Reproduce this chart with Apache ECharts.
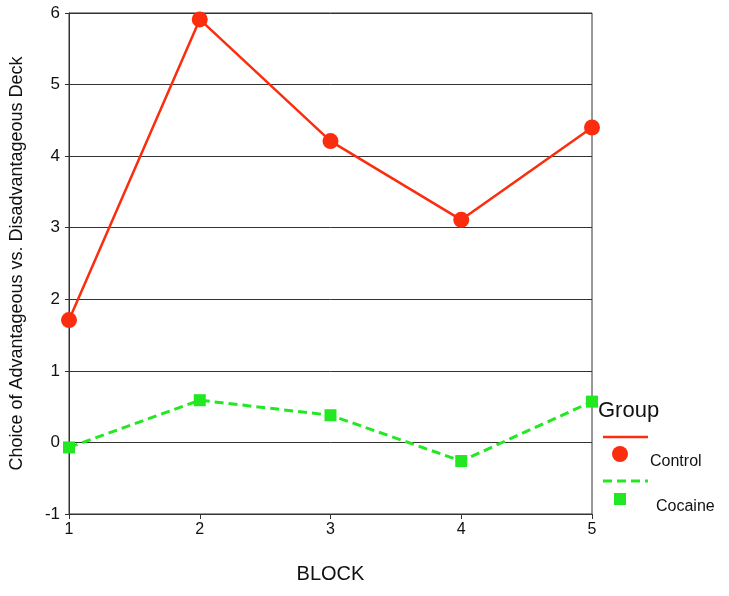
<!DOCTYPE html>
<html><head><meta charset="utf-8">
<script src="https://cdn.jsdelivr.net/npm/echarts@6/dist/echarts.min.js"></script>
<style>html,body{margin:0;padding:0;background:#fff}#c{width:729px;height:596px}</style>
</head><body><div id="c"></div>
<script>
const blocks = ['1','2','3','4','5'];
const controlValues = [1.71, 5.91, 4.21, 3.11, 4.40];
const cocaineValues = [-0.07, 0.59, 0.38, -0.26, 0.57];
const yTicks = {min: -1, max: 6, interval: 1};
const red = '#fa2d0e', green = '#22e822';
const font = 'Liberation Sans, Arial, Helvetica, sans-serif';

const chart = echarts.init(document.getElementById('c'), null, {renderer: 'canvas'});
chart.setOption({
  animation: false,
  grid: {left: 69, right: 137, top: 13, bottom: 82, show: true, borderColor: '#333', borderWidth: 1, backgroundColor: 'transparent'},
  xAxis: {
    type: 'category', data: blocks, boundaryGap: false,
    name: 'BLOCK', nameLocation: 'middle', nameGap: 50,
    nameTextStyle: {fontFamily: font, fontSize: 20, color: '#111'},
    axisLine: {onZero: false, lineStyle: {color: '#333', width: 1}},
    axisTick: {show: true, length: 5, lineStyle: {color: '#333'}, alignWithLabel: true},
    axisLabel: {fontFamily: font, fontSize: 16, color: '#111', margin: 8},
    splitLine: {show: false}
  },
  yAxis: {
    type: 'value', min: yTicks.min, max: yTicks.max, interval: yTicks.interval,
    name: 'Choice of Advantageous vs. Disadvantageous Deck', nameLocation: 'middle', nameGap: 43,
    nameTextStyle: {fontFamily: font, fontSize: 18, color: '#111'},
    axisLine: {show: true, lineStyle: {color: '#333', width: 1}},
    axisTick: {show: true, length: 4, lineStyle: {color: '#333'}},
    axisLabel: {fontFamily: font, fontSize: 17, color: '#111', margin: 9},
    splitLine: {show: true, lineStyle: {color: '#333', width: 1}}
  },
  series: [
    {name: 'Control', type: 'line', data: controlValues, symbol: 'circle', symbolSize: 16,
     lineStyle: {color: red, width: 2.5}, itemStyle: {color: red}, clip: false},
    {name: 'Cocaine', type: 'line', data: cocaineValues, symbol: 'rect', symbolSize: 12,
     lineStyle: {color: green, width: 3, type: [9, 5]}, itemStyle: {color: green}, clip: false}
  ],
  graphic: [
    {type: 'text', left: 598, top: 400, style: {text: 'Group', font: '22px ' + font, fill: '#111'}},
    {type: 'line', shape: {x1: 603, y1: 437, x2: 648, y2: 437}, style: {stroke: red, lineWidth: 2.5}},
    {type: 'circle', shape: {cx: 620, cy: 454, r: 8}, style: {fill: red}},
    {type: 'text', left: 650, top: 454, style: {text: 'Control', font: '16px ' + font, fill: '#111'}},
    {type: 'line', shape: {x1: 603, y1: 481, x2: 648, y2: 481}, style: {stroke: green, lineWidth: 3, lineDash: [9, 5]}},
    {type: 'rect', shape: {x: 614, y: 493, width: 12, height: 12}, style: {fill: green}},
    {type: 'text', left: 656, top: 499, style: {text: 'Cocaine', font: '16px ' + font, fill: '#111'}}
  ]
});
</script></body></html>
